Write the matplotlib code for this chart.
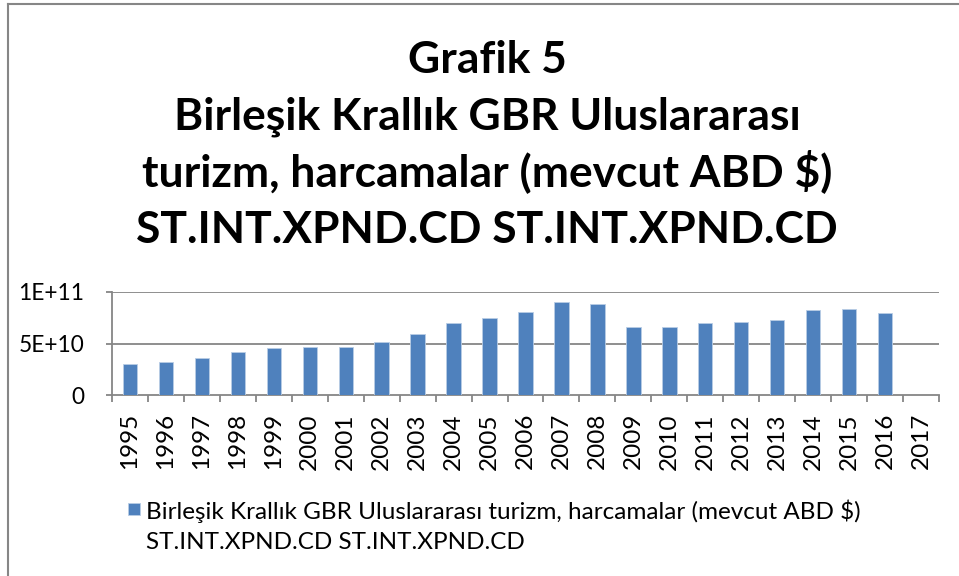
import numpy as np
import matplotlib
matplotlib.use('Agg')
import matplotlib.pyplot as plt
from matplotlib.patches import Rectangle
from matplotlib.lines import Line2D

years = [str(y) for y in range(1995, 2018)]
values = [3.05e10, 3.2e10, 3.6e10, 4.2e10, 4.6e10, 4.7e10, 4.65e10, 5.15e10,
          5.9e10, 6.95e10, 7.5e10, 8.05e10, 9.05e10, 8.85e10, 6.6e10, 6.65e10,
          6.98e10, 7.1e10, 7.33e10, 8.28e10, 8.35e10, 7.98e10, np.nan]
y_ticks = [0, 5e10, 1e11]
y_tick_labels = ['0', '5E+10', '1E+11']
title_lines = ['Grafik 5',
               'Birleşik Krallık GBR Uluslararası',
               'turizm, harcamalar (mevcut ABD $)',
               'ST.INT.XPND.CD ST.INT.XPND.CD']
legend_lines = ['Birleşik Krallık GBR Uluslararası turizm, harcamalar (mevcut ABD $)',
                'ST.INT.XPND.CD ST.INT.XPND.CD']

FONT = ['Lato', 'DejaVu Sans']
plt.rcParams['font.family'] = FONT
W, H = 959, 576
fig = plt.figure(figsize=(W / 100, H / 100), dpi=100)
fig.patch.set_facecolor('white')

def px(x, y):
    return x / W, 1 - y / H

# Axes
l, b = px(112, 395)
r, t = px(939, 292)
ax = fig.add_axes([l, b, r - l, t - b])
x = np.arange(len(years))
ax.bar(x, values, width=0.4, color='#4F81BD', edgecolor='#B9CDE5', linewidth=0.6, zorder=3)
ax.set_xlim(-0.5, len(years) - 0.5)
ax.set_ylim(0, 1e11)
grid_c = '#868686'
ax.set_yticks(y_ticks)
ax.set_yticklabels(y_tick_labels, fontsize=16.3)
for yv in y_ticks[1:]:
    ax.axhline(yv, color=grid_c, lw=1.3, zorder=1)
ax.set_xticks(x)
ax.set_xticklabels(years, rotation=90, fontsize=17.5)
ax.set_xticks(np.arange(-0.5, len(years)), minor=True)
ax.tick_params(axis='x', which='major', length=0, pad=13)
ax.tick_params(axis='x', which='minor', length=5, color=grid_c, width=1.3)
ax.tick_params(axis='y', length=4, color=grid_c, width=1.3, pad=16)
for s in ['top', 'right']:
    ax.spines[s].set_visible(False)
for s in ['left', 'bottom']:
    ax.spines[s].set_color(grid_c)
    ax.spines[s].set_linewidth(1.3)

renderer = fig.canvas.get_renderer()

def fit_size(s, target_w, weight='normal'):
    tt = fig.text(0, 0, s, fontsize=20, fontweight=weight)
    w = tt.get_window_extent(renderer).width
    tt.remove()
    return 20 * target_w / w

# Title
ts = fit_size(title_lines[1], 626, 'bold')
for line, yb in zip(title_lines, [73, 129.5, 186, 243]):
    fig.text(*px(487, yb), line, ha='center', va='baseline', fontsize=ts, fontweight='bold')

# Legend
ls = fit_size(legend_lines[0], 716)
fig.patches.append(Rectangle(px(128, 515), 12 / W, 12 / H, transform=fig.transFigure,
                             facecolor='#4F81BD', edgecolor='#B9CDE5', lw=0.6))
fig.text(*px(146, 519), legend_lines[0], ha='left', va='baseline', fontsize=ls)
fig.text(*px(146, 549), legend_lines[1], ha='left', va='baseline', fontsize=ls)

# Border
fig.lines.append(Line2D([8 / W, 1], [1 - 4 / H, 1 - 4 / H], transform=fig.transFigure, color='#868686', lw=1.5))
fig.lines.append(Line2D([8 / W, 8 / W], [0, 1 - 4 / H], transform=fig.transFigure, color='#868686', lw=1.5))

fig.savefig('out.png', dpi=100)
